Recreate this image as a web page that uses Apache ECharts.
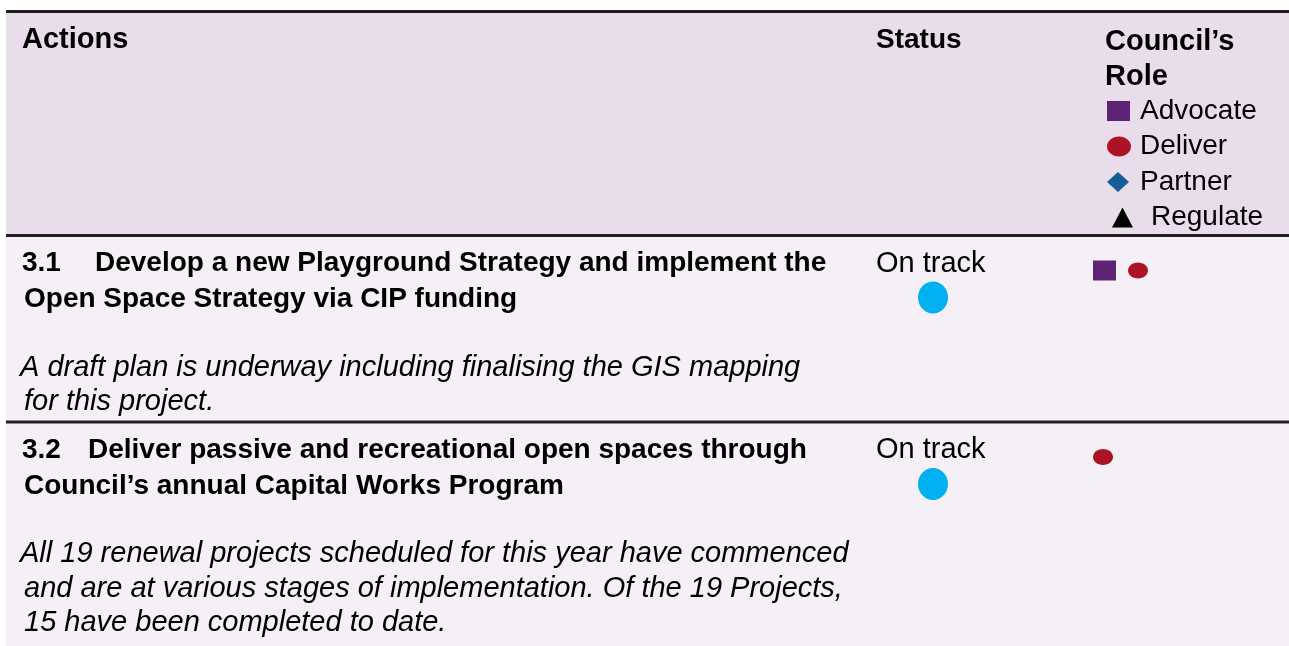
<!DOCTYPE html>
<html>
<head>
<meta charset="utf-8">
<script src="https://cdn.jsdelivr.net/npm/echarts@6/dist/echarts.min.js"></script>
<style>
html,body{margin:0;padding:0;background:#fff;}
#main{width:1289px;height:646px;}
</style>
</head>
<body>
<div id="main"></div>
<script>
// ---- data ----
const headerLabels = ['Actions', 'Status', 'Council\u2019s', 'Role'];
const roleLegend = ['Advocate', 'Deliver', 'Partner', 'Regulate'];
const actionIds = ['3.1', '3.2'];
const actionTitles = [
  ['Develop a new Playground Strategy and implement the', 'Open Space Strategy via CIP funding'],
  ['Deliver passive and recreational open spaces through', 'Council\u2019s annual Capital Works Program']
];
const actionComments = [
  ['A draft plan is underway including finalising the GIS mapping', 'for this project.'],
  ['All 19 renewal projects scheduled for this year have commenced',
   'and are at various stages of implementation. Of the 19 Projects,',
   '15 have been completed to date.']
];
const statuses = ['On track', 'On track'];
const actionRoles = [['Advocate', 'Deliver'], ['Deliver']];

// ---- styles / layout ----
const FAMILY = 'Liberation Sans';
const roleStyle = {
  Advocate: { shape: 'square', color: '#5E2375' },
  Deliver: { shape: 'ellipse', color: '#AC1426' },
  Partner: { shape: 'diamond', color: '#155C99' },
  Regulate: { shape: 'triangle', color: '#000000' }
};
const statusColor = { 'On track': '#00B0F0' };
const LEFT = 6, RIGHT = 1289;
const headerTop = 13, headerBottom = 235.5;
const rowTops = [235.5, 422];
const rowBottoms = [422, 646];

const g = [];
function marker(role, x, cy, big) {
  const st = roleStyle[role];
  if (st.shape === 'square') {
    return { type: 'rect', shape: { x: x, y: cy - 10, width: 23, height: 20 }, style: { fill: st.color } };
  } else if (st.shape === 'ellipse') {
    return big
      ? { type: 'ellipse', shape: { cx: x + 12, cy: cy, rx: 12, ry: 10 }, style: { fill: st.color } }
      : { type: 'ellipse', shape: { cx: x + 10, cy: cy, rx: 10, ry: 8 }, style: { fill: st.color } };
  } else if (st.shape === 'diamond') {
    return { type: 'polygon', shape: { points: [[x, cy], [x + 11, cy - 10], [x + 22, cy], [x + 11, cy + 10]] }, style: { fill: st.color } };
  } else {
    return { type: 'polygon', shape: { points: [[x + 5, cy + 10], [x + 15.5, cy - 10], [x + 26, cy + 10]] }, style: { fill: st.color } };
  }
}
function text(str, x, y, size, weight, fstyle) {
  return {
    type: 'text', x: x, y: y,
    style: {
      text: str, x: 0, y: 0, fill: '#000',
      fontFamily: FAMILY, fontSize: size, fontWeight: weight, fontStyle: fstyle,
      verticalAlign: 'middle', align: 'left'
    }
  };
}

// backgrounds
g.push({ type: 'rect', shape: { x: LEFT, y: headerTop, width: RIGHT - LEFT, height: headerBottom - headerTop }, style: { fill: '#E9DCEB' } });
rowTops.forEach((t, i) => {
  g.push({ type: 'rect', shape: { x: LEFT, y: t, width: RIGHT - LEFT, height: rowBottoms[i] - t }, style: { fill: '#F5EFF6' } });
});

// header text
g.push(text(headerLabels[0], 22, 40, 29, 'bold', 'normal'));
g.push(text(headerLabels[1], 876, 40, 28, 'bold', 'normal'));
g.push(text(headerLabels[2], 1105, 42, 29, 'bold', 'normal'));
g.push(text(headerLabels[3], 1105, 77, 29, 'bold', 'normal'));
roleLegend.forEach((r, i) => {
  const cy = 111 + i * 35.5;
  g.push(marker(r, 1107, cy, true));
  g.push(text(r, r === 'Regulate' ? 1151 : 1140, cy, 28, 'normal', 'normal'));
});

// rows
actionIds.forEach((id, i) => {
  const top = rowTops[i];
  g.push(text(id, 22, top + 28, 28, 'bold', 'normal'));
  g.push(text(actionTitles[i][0], i === 0 ? 95 : 88, top + 28, 28, 'bold', 'normal'));
  g.push(text(actionTitles[i][1], 24, top + 64, 28, 'bold', 'normal'));
  actionComments[i].forEach((line, k) => {
    g.push(text(line, k === 0 ? 20 : 24, top + 132 + k * 34.5, 29, 'normal', 'italic'));
  });
  g.push(text(statuses[i], 876, top + 28, 29, 'normal', 'normal'));
  g.push({ type: 'ellipse', shape: { cx: 933, cy: top + 62, rx: 15, ry: 16 }, style: { fill: statusColor[statuses[i]] } });
  let x = 1093;
  actionRoles[i].forEach(r => {
    g.push(marker(r, x, top + 35, false));
    x += roleStyle[r].shape === 'square' ? 35 : 34;
  });
});

// rules
[[11.5, 3], [235.5, 3], [422, 3]].forEach(([y, w]) => {
  g.push({ type: 'line', shape: { x1: LEFT, y1: y, x2: RIGHT, y2: y }, style: { stroke: '#231F20', lineWidth: w } });
});

const chart = echarts.init(document.getElementById('main'), null, { renderer: 'canvas' });
chart.setOption({ animation: false, graphic: { elements: g } });
</script>
</body>
</html>
